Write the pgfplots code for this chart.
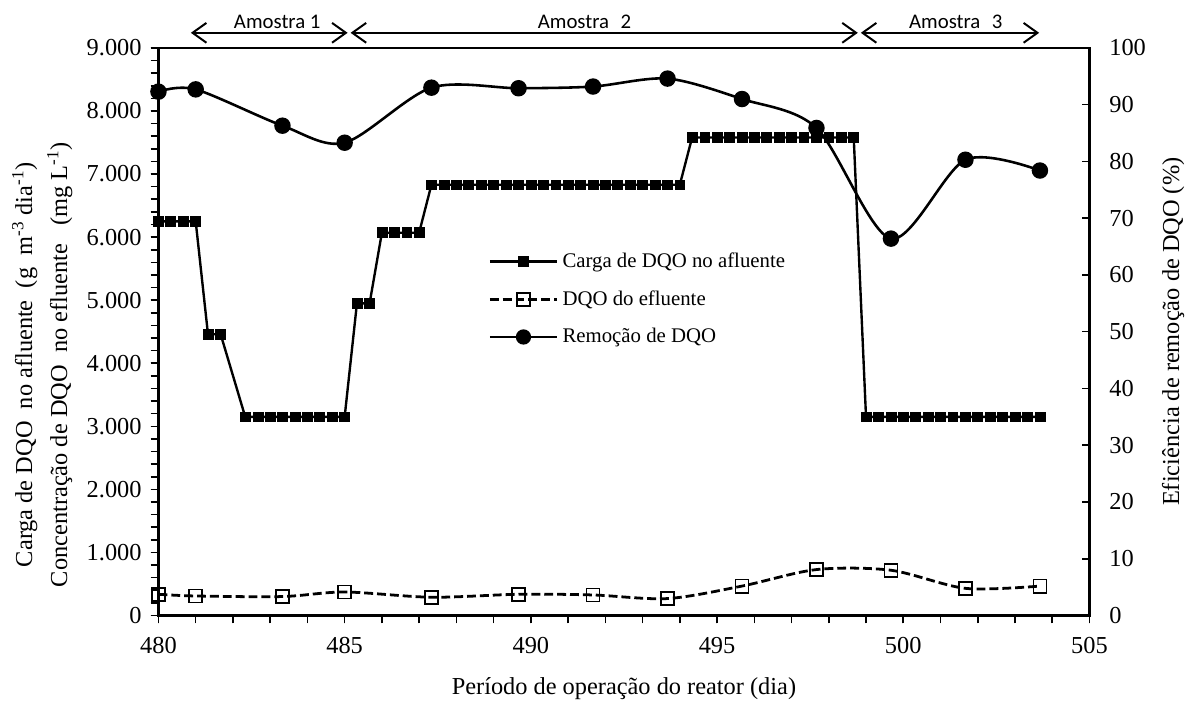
\documentclass[border=0pt]{standalone}
\usepackage{pgfplots}
\pgfplotsset{compat=1.18}
\usepackage{fontspec}
\setmainfont{Liberation Serif}
\newfontfamily\amfont{Carlito}
\usetikzlibrary{arrows.meta}

\begin{document}
\begin{tikzpicture}
\pgfplotsset{
  base/.style={
    width=470pt, height=286.5pt, scale only axis,
    xmin=480, xmax=505,
    /pgf/number format/assume math mode=true,
    tick label style={font=\fontsize{12.3}{14}\selectfont},
    clip=false,
  },
  legend image code/.code={\draw[mark repeat=2,mark phase=2,#1] plot coordinates {(0pt,0pt) (17pt,0pt) (34pt,0pt)};},
}
\begin{axis}[base,
  ymin=0, ymax=9000,
  xtick={480,485,...,505},
  minor xtick={480,...,505},
  ytick={0,1000,...,9000},
  minor ytick={0,200,...,9000},
  y tick label style={/pgf/number format/1000 sep={.}, xshift=-1pt},
  x tick label style={/pgf/number format/1000 sep={}, yshift=-3.5pt},
  scaled y ticks=false,
  xtick pos=bottom, ytick pos=left,
  tick align=outside,
  major tick length=4pt, minor tick length=4pt,
  axis line style={line width=1.2pt},
  every tick/.style={black, line width=0.8pt},
  legend style={at={(axis description cs:0.354,0.647)}, anchor=north west, draw=none, fill=none,
    font=\fontsize{10.5}{12}\selectfont, row sep=6.2pt, inner sep=0pt},
  legend cell align=left,
]
\coordinate (bbsw) at (axis description cs:-0.1702,-0.1599);
\coordinate (bbne) at (axis description cs:1.0968,1.0845);

\addplot[black, line width=1.2pt, mark=square*, mark size=2.5pt, mark options={solid, line width=0.3pt}] coordinates {
(480.00,6250) (480.33,6250) (480.67,6250) (481.00,6250)
(481.33,4460) (481.67,4460)
(482.33,3150) (482.67,3150) (483.00,3150) (483.33,3150) (483.67,3150) (484.00,3150) (484.33,3150) (484.67,3150) (485.00,3150)
(485.33,4950) (485.67,4950)
(486.00,6070) (486.33,6070) (486.67,6070) (487.00,6070)
(487.33,6830) (487.67,6830) (488.00,6830) (488.33,6830) (488.67,6830) (489.00,6830) (489.33,6830) (489.67,6830) (490.00,6830) (490.33,6830) (490.67,6830) (491.00,6830) (491.33,6830) (491.67,6830) (492.00,6830) (492.33,6830) (492.67,6830) (493.00,6830) (493.33,6830) (493.67,6830) (494.00,6830)
(494.33,7580) (494.67,7580) (495.00,7580) (495.33,7580) (495.67,7580) (496.00,7580) (496.33,7580) (496.67,7580) (497.00,7580) (497.33,7580) (497.67,7580) (498.00,7580) (498.33,7580) (498.67,7580)
(499.00,3150) (499.33,3150) (499.67,3150) (500.00,3150) (500.33,3150) (500.67,3150) (501.00,3150) (501.33,3150) (501.67,3150) (502.00,3150) (502.33,3150) (502.67,3150) (503.00,3150) (503.33,3150) (503.67,3150)
};
\addlegendentry{Carga de DQO no afluente}

\addplot[black, line width=1.4pt, dash pattern=on 4.5pt off 2pt, smooth, mark=square, mark size=3.3pt, mark options={solid, fill=white, line width=0.9pt}] coordinates {
(480.00,336) (481.00,309) (483.33,300) (485.00,372) (487.33,289) (489.67,336) (491.67,325) (493.67,268) (495.67,466) (497.67,728) (499.67,717) (501.67,430) (503.67,466)
};
\addlegendentry{DQO do efluente}

\addlegendimage{black, line width=1.3pt, mark=*, mark size=3.2pt}
\addlegendentry{Remoção de DQO}

% sample periods
\draw[{Straight Barb[length=7pt,width=10pt]}-{Straight Barb[length=7pt,width=10pt]}, line width=1pt] (axis cs:480.87,9240) -- (axis cs:485.08,9240);
\draw[{Straight Barb[length=7pt,width=10pt]}-{Straight Barb[length=7pt,width=10pt]}, line width=1pt] (axis cs:485.16,9240) -- (axis cs:498.78,9240);
\draw[{Straight Barb[length=7pt,width=10pt]}-{Straight Barb[length=7pt,width=10pt]}, line width=1pt] (axis cs:498.86,9240) -- (axis cs:503.65,9240);
\node[font=\amfont\fontsize{10.5}{12}\selectfont, anchor=base] at (axis cs:483.19,9310) {Amostra 1};
\node[font=\amfont\fontsize{10.5}{12}\selectfont, anchor=base] at (axis cs:491.44,9310) {Amostra\hspace{0.55em}2};
\node[font=\amfont\fontsize{10.5}{12}\selectfont, anchor=base] at (axis cs:501.41,9310) {Amostra\hspace{0.55em}3};

% axis labels
\node[rotate=90, font=\fontsize{12.3}{14}\selectfont] at (axis description cs:-0.1436,0.442) {Carga de DQO\ \ no afluente\ \ (g\ \ m\textsuperscript{-3} dia\textsuperscript{-1})};
\node[rotate=90, font=\fontsize{12.3}{14}\selectfont] at (axis description cs:-0.106,0.442) {Concentração de DQO\ \ no efluente\ \ \ (mg L\textsuperscript{-1})};
\node[font=\fontsize{12.3}{14}\selectfont] at (axis description cs:0.5,-0.129) {Período de operação do reator (dia)};
\node[rotate=90, font=\fontsize{12.3}{14}\selectfont] at (axis description cs:1.09,0.5) {Eficiência de remoção de DQO (\%)};
\end{axis}

\begin{axis}[base,
  ymin=0, ymax=100,
  axis x line=none,
  axis y line*=right,
  ytick={0,10,...,100},
  ytick pos=right,
  tick align=inside,
  major tick length=4pt,
  y tick label style={xshift=6.5pt},
  axis line style={line width=1.2pt},
  every tick/.style={black, line width=0.8pt},
]
\addplot[black, line width=1.3pt, smooth, mark=*, mark size=3.5pt, mark options={solid}] coordinates {
(480.00,92.3) (481.00,92.7) (483.33,86.3) (485.00,83.3) (487.33,93.0) (489.67,92.9) (491.67,93.2) (493.67,94.6) (495.67,91.0) (497.67,85.9) (499.67,66.4) (501.67,80.3) (503.67,78.4)
};
\end{axis}
\path (bbsw) rectangle (bbne);
\end{tikzpicture}
\end{document}
